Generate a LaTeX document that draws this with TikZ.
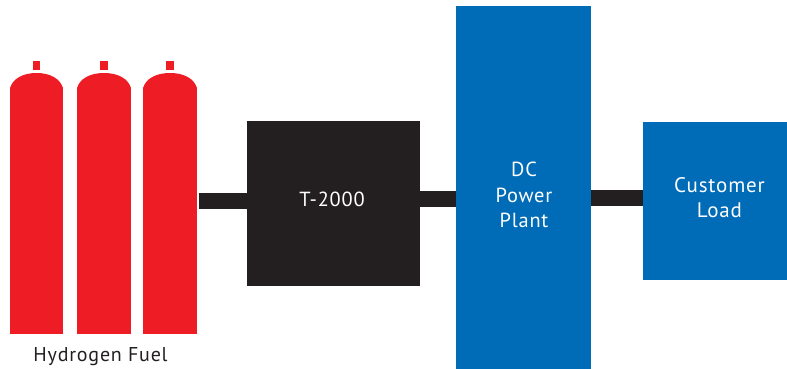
\documentclass[tikz,border=0pt]{standalone}
\usepackage{fontspec}
\setmainfont{PT Sans}[LetterSpace=4]
\definecolor{tankred}{HTML}{EE1C25}
\definecolor{boxblack}{HTML}{231F20}
\definecolor{boxblue}{HTML}{006BB6}
\begin{document}
\begin{tikzpicture}[x=1pt, y=-1pt,
	box/.style={shape=rectangle, inner sep=0pt, outer sep=0pt},
	pipe/.style={draw=boxblack, line width=16pt},
	boxtext/.style={align=center, text=white, font=\fontsize{20.4}{25.5}\selectfont}]

		\useasboundingbox (0,0) rectangle (787,369);

		\foreach \name/\left/\right/\capx in {tank1/10/63/36.5, tank2/77/131/104, tank3/143/197/170}
		{
			\fill[tankred] (\left,88) .. controls (\left+3,78.5) and (\left+13,73) .. ({(\left+\right)/2},73) .. controls (\right-13,73) and (\right-3,78.5) .. (\right,88) -- cycle;
			\fill[tankred] (\capx-3.7,61) rectangle (\capx+3.7,70);
			\node (\name) at ({(\left+\right)/2},211) [box, fill=tankred, minimum width=\right pt-\left pt, minimum height=246pt] {};
		}

		\node (t2000) at (333.5,203.5) [box, fill=boxblack, minimum width=173pt, minimum height=165pt] {};
		\node (plant) at (523.5,187.5) [box, fill=boxblue, minimum width=135pt, minimum height=363pt] {};
		\node (load) at (715,201) [box, fill=boxblue, minimum width=144pt, minimum height=158pt] {};

		\node (fuel) at (100.5,357) [font=\fontsize{20}{24}\selectfont, text=boxblack, inner sep=0pt] {Hydrogen Fuel};
		\node (t2000text) at (332,199) [boxtext, inner sep=0pt] {T-2000};
		\node (planttext) at (524,195) [boxtext, inner sep=0pt] {DC\\Power\\Plant};
		\node (loadtext) at (719.5,197.5) [boxtext, font=\fontsize{21}{25.5}\selectfont, inner sep=0pt] {Customer\\Load};

		\coordinate (inlet) at (199,201);

		\draw[pipe]
		(inlet) -- (inlet -| t2000.west);
		\draw[pipe]
		([yshift=4.5pt]t2000.east) -- ([yshift=4.5pt]t2000.east -| plant.west);
		\draw[pipe]
		([yshift=3pt]load.west) -- ([yshift=3pt]load.west -| plant.east);
	\end{tikzpicture}
\end{document}
